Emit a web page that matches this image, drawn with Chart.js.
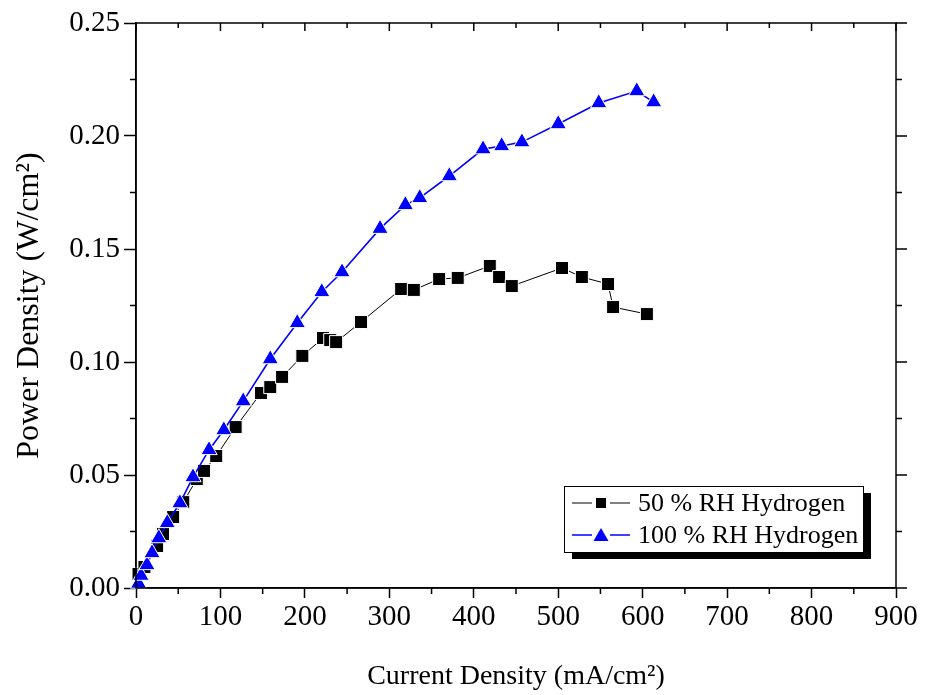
<!DOCTYPE html>
<html>
<head>
<meta charset="utf-8">
<script src="https://cdn.jsdelivr.net/npm/chart.js@4.4.1/dist/chart.umd.min.js"></script>
<style>
  html, body { margin: 0; padding: 0; background: #fff; }
  canvas { display: block; }
</style>
</head>
<body>
<canvas id="powerChart" width="925" height="695"></canvas>
<script>
// current density (mA/cm2) and power density (W/cm2)
const rh50Current = [3, 10, 25, 32, 44, 56, 72, 80.5, 95, 118, 148, 159, 173, 197, 221.5, 230, 237, 266.5, 314, 329, 359, 381, 419, 430, 445, 504.5, 528, 559, 565, 605];
const rh50Power = [0.0062, 0.0093, 0.0186, 0.0239, 0.0314, 0.038, 0.0482, 0.0518, 0.0584, 0.0712, 0.0863, 0.0889, 0.0934, 0.1027, 0.1106, 0.1097, 0.1088, 0.1177, 0.1323, 0.1319, 0.1367, 0.1372, 0.1425, 0.1376, 0.1336, 0.1416, 0.1376, 0.1345, 0.1243, 0.1212];

const rh100Current = [3, 6, 13, 19, 27, 37, 52, 67.5, 86.5, 104, 127, 159, 191, 220, 244, 289, 319, 336, 371, 411, 433, 457, 500, 548, 593, 613];
const rh100Power = [0.002, 0.0055, 0.0102, 0.0155, 0.0221, 0.0288, 0.0376, 0.0491, 0.0611, 0.0699, 0.0827, 0.1013, 0.1173, 0.131, 0.1398, 0.159, 0.1695, 0.1726, 0.1823, 0.1942, 0.1956, 0.1973, 0.2053, 0.2146, 0.2199, 0.215];

const seriesLabels = ["50 % RH Hydrogen", "100 % RH Hydrogen"];
const xTickValues = [0, 100, 200, 300, 400, 500, 600, 700, 800, 900];
const yTickValues = [0, 0.05, 0.1, 0.15, 0.2, 0.25];

const serif = "'Liberation Serif', 'DejaVu Serif', serif";
const toPoints = (xs, ys) => xs.map((x, i) => ({ x, y: ys[i] }));

// frame, minor ticks, mirrored ticks and the boxed legend
const framePlugin = {
  id: "frame",
  afterDraw(chart) {
    const { ctx, chartArea: a, scales: { x, y } } = chart;
    ctx.save();
    ctx.strokeStyle = "#000";
    ctx.lineWidth = 1.5;
    ctx.strokeRect(a.left, a.top, a.right - a.left, a.bottom - a.top);

    ctx.beginPath();
    for (let v = 0; v <= 900; v += 50) {
      const px = x.getPixelForValue(v);
      const major = v % 100 === 0;
      if (!major) {
        ctx.moveTo(px, a.bottom);
        ctx.lineTo(px, a.bottom + 6);
      }
      ctx.moveTo(px, a.top);
      ctx.lineTo(px, a.top + (major ? 8 : 5));
    }
    for (let i = 0; i <= 10; i++) {
      const py = y.getPixelForValue(i * 0.025);
      const major = i % 2 === 0;
      if (!major) {
        ctx.moveTo(a.left, py);
        ctx.lineTo(a.left - 6, py);
      }
      ctx.moveTo(a.right, py);
      ctx.lineTo(a.right + (major ? 11 : 6), py);
    }
    ctx.stroke();

    // legend
    const bx = 564, by = 486, bw = 299, bh = 66;
    ctx.fillStyle = "#000";
    ctx.fillRect(bx + 8, by + 7, bw, bh);
    ctx.fillStyle = "#fff";
    ctx.fillRect(bx, by, bw, bh);
    ctx.lineWidth = 1;
    ctx.strokeStyle = "#000";
    ctx.strokeRect(bx + 0.5, by + 0.5, bw, bh);

    const rows = [503, 535];
    chart.data.datasets.forEach((ds, i) => {
      const ry = rows[i];
      ctx.strokeStyle = ds.borderColor;
      ctx.lineWidth = ds.borderWidth;
      ctx.beginPath();
      ctx.moveTo(572, ry);
      ctx.lineTo(592, ry);
      ctx.moveTo(610, ry);
      ctx.lineTo(630, ry);
      ctx.stroke();
      ctx.fillStyle = ds.backgroundColor;
      ctx.beginPath();
      if (ds.pointStyle === "rect") {
        ctx.rect(596, ry - 5, 10, 10);
      } else {
        ctx.moveTo(601, ry - 7);
        ctx.lineTo(608.5, ry + 6);
        ctx.lineTo(593.5, ry + 6);
        ctx.closePath();
      }
      ctx.fill();
      ctx.fillStyle = "#000";
      ctx.font = "26px " + serif;
      ctx.textBaseline = "middle";
      ctx.textAlign = "left";
      ctx.fillText(ds.label, 638, ry + 1);
    });
    ctx.restore();
  }
};

new Chart(document.getElementById("powerChart"), {
  type: "scatter",
  data: {
    datasets: [
      {
        label: seriesLabels[0],
        data: toPoints(rh50Current, rh50Power),
        showLine: true,
        borderColor: "#000",
        backgroundColor: "#000",
        borderWidth: 1,
        pointStyle: "rect",
        pointRadius: 9.2,
        pointBorderColor: "#fff",
        pointBorderWidth: 1,
        pointHoverRadius: 9.2,
        clip: 12,
        order: 1
      },
      {
        label: seriesLabels[1],
        data: toPoints(rh100Current, rh100Power),
        showLine: true,
        borderColor: "#0000ff",
        backgroundColor: "#0000ff",
        borderWidth: 1.6,
        pointStyle: "triangle",
        pointRadius: 9.4,
        pointBorderColor: "#fff",
        pointBorderWidth: 1,
        pointHoverRadius: 9.4,
        clip: 12,
        order: 0
      }
    ]
  },
  options: {
    responsive: false,
    animation: false,
    events: [],
    layout: { padding: { top: 23, right: 29, left: 0, bottom: 0 } },
    plugins: {
      legend: { display: false },
      tooltip: { enabled: false }
    },
    scales: {
      x: {
        type: "linear",
        min: 0,
        max: 900,
        afterFit: s => { s.height = 107; },
        afterBuildTicks: s => { s.ticks = xTickValues.map(v => ({ value: v })); },
        ticks: {
          autoSkip: false,
          maxRotation: 0,
          color: "#000",
          padding: 2,
          font: { family: serif, size: 29 },
          callback: v => String(v)
        },
        grid: { drawOnChartArea: false, tickLength: 10, tickColor: "#000", tickWidth: 1.5 },
        border: { color: "#000", width: 1.5 },
        title: {
          display: true,
          text: "Current Density (mA/cm²)",
          color: "#000",
          font: { family: serif, size: 28 },
          padding: { top: 0, bottom: 2 }
        }
      },
      y: {
        type: "linear",
        min: 0,
        max: 0.25,
        afterFit: s => { s.width = 136; },
        afterBuildTicks: s => { s.ticks = yTickValues.map(v => ({ value: v })); },
        ticks: {
          autoSkip: false,
          color: "#000",
          padding: 4,
          font: { family: serif, size: 29 },
          callback: v => v.toFixed(2)
        },
        grid: { drawOnChartArea: false, tickLength: 12, tickColor: "#000", tickWidth: 1.5 },
        border: { color: "#000", width: 1.5 },
        title: {
          display: true,
          text: "Power Density (W/cm²)",
          color: "#000",
          font: { family: serif, size: 32 },
          padding: { top: 10, bottom: 0 }
        }
      }
    }
  },
  plugins: [framePlugin]
});
</script>
</body>
</html>
